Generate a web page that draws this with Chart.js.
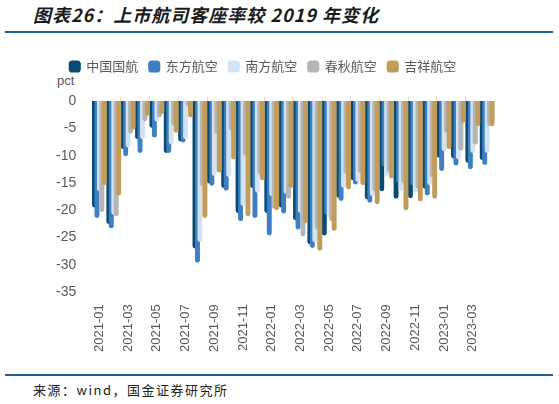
<!DOCTYPE html>
<html>
<head>
<meta charset="utf-8">
<script src="https://cdn.jsdelivr.net/npm/chart.js@4/dist/chart.umd.min.js"></script>
<style>
  body { margin: 0; background: #fff; width: 559px; height: 404px; position: relative; overflow: hidden;
         font-family: "Noto Sans CJK SC", "Noto Sans", sans-serif; }
  #title { position: absolute; left: 33px; top: 1px; font-size: 18px; font-weight: bold; font-style: italic;
           color: #1a1a1a; letter-spacing: 1px; white-space: nowrap; }
  .rule { position: absolute; left: 5px; width: 548px; height: 2px; background: #1f5f8e; }
  #unit { position: absolute; left: 57px; top: 73px; font-size: 13px; color: #595959; font-family: "Liberation Sans", Arial, sans-serif; }
  #source { position: absolute; left: 33px; top: 380px; font-size: 13px; color: #222; letter-spacing: 1.5px; white-space: nowrap; }
  #wrap { position: absolute; left: 0; top: 40px; width: 507px; height: 316px; }
</style>
</head>
<body>
<div id="title">图表26：上市航司客座率较 2019 年变化</div>
<div class="rule" style="top:31px"></div>
<div id="unit">pct</div>
<div id="wrap"><canvas id="myChart"></canvas></div>
<div class="rule" style="top:374px"></div>
<div id="source">来源：wind，国金证券研究所</div>

<script>
'use strict';

let months = ['2021-01', '2021-02', '2021-03', '2021-04', '2021-05', '2021-06', '2021-07', '2021-08',
    '2021-09', '2021-10', '2021-11', '2021-12', '2022-01', '2022-02', '2022-03', '2022-04',
    '2022-05', '2022-06', '2022-07', '2022-08', '2022-09', '2022-10', '2022-11', '2022-12',
    '2023-01', '2023-02', '2023-03', '2023-04'];

let airChina = [-19.5, -22.5, -8.8, -7.0, -4.9, -9.5, -7.4, -27.0, -15.1, -15.9, -20.5, -15.9, -20.5, -19.5,
    -21.8, -26.2, -24.6, -17.7, -14.5, -18.0, -16.5, -17.9, -17.8, -16.0, -10.4, -10.5, -11.3, -10.8];
let chinaEastern = [-21.4, -23.3, -10.1, -9.5, -6.7, -9.5, -7.6, -29.6, -15.5, -16.4, -22.0, -21.4, -24.6, -20.6,
    -23.5, -26.9, -20.8, -18.3, -15.3, -18.6, -12.0, -15.0, -15.5, -17.3, -12.8, -11.8, -12.5, -11.7];
let chinaSouthern = [-16.5, -20.8, -8.5, -7.0, -3.8, -7.9, -7.0, -25.8, -13.7, -13.9, -19.2, -16.8, -17.4, -17.0,
    -20.5, -25.9, -21.3, -15.9, -14.8, -17.4, -13.8, -16.5, -16.8, -15.4, -9.2, -10.7, -9.5, -9.5];
let springAir = [-20.3, -21.1, -6.0, -3.7, -3.0, -4.5, -1.0, -15.6, -6.0, -5.4, -10.0, -13.4, -19.7, -17.9,
    -24.8, -23.5, -22.0, -13.4, -13.2, -16.5, -13.0, -15.0, -16.0, -14.0, -5.8, -9.1, -8.0, -4.6];
let juneyao = [-15.4, -17.3, -5.2, -2.7, -2.4, -5.8, -3.0, -21.4, -13.1, -10.7, -21.1, -14.5, -20.0, -15.9,
    -22.3, -27.4, -23.8, -16.2, -15.4, -18.9, -14.2, -20.0, -18.4, -17.9, -8.8, -4.0, -4.6, -4.6];

let seriesNames = ['中国国航', '东方航空', '南方航空', '春秋航空', '吉祥航空'];
let seriesColors = ['#0a4a70', '#3f7fc0', '#d2e3f3', '#b5b5b5', '#c19c5a'];
let seriesValues = [airChina, chinaEastern, chinaSouthern, springAir, juneyao];

let datasets = [];
for (let i = 0; i < seriesNames.length; i++) {
    datasets.push({
        label: seriesNames[i],
        data: seriesValues[i],
        backgroundColor: seriesColors[i],
        borderRadius: 3,
        borderSkipped: 'start',
        categoryPercentage: 0.86,
        barPercentage: 2.0
    });
}

// later series on top, like the overlapped bars in the source
const drawInOrder = {
    id: 'drawInOrder',
    beforeDatasetsDraw(chart) {
        const area = chart.chartArea;
        const ctx = chart.ctx;
        ctx.save();
        ctx.beginPath();
        ctx.rect(area.left - 2, area.top, area.right - area.left + 4, area.bottom - area.top);
        ctx.clip();
        for (let i = 0; i < chart.data.datasets.length; i++) {
            chart.getDatasetMeta(i).controller.draw();
        }
        ctx.restore();
        return false;
    }
};

// some room between legend and plot (for the "pct" label), legend a bit to the left
const legendSpace = {
    id: 'legendSpace',
    beforeInit(chart) {
        if (!chart.legend) return;
        const fit = chart.legend.fit;
        chart.legend.fit = function () {
            fit.bind(chart.legend)();
            this.height += 14;
        };
    },
    afterLayout(chart) {
        if (!chart.legend) return;
        chart.legend.left -= 6;
        chart.legend.right -= 6;
    }
};

const config = {
    type: 'bar',
    data: { labels: months, datasets: datasets },
    plugins: [drawInOrder, legendSpace],
    options: {
        responsive: true,
        maintainAspectRatio: false,
        animation: false,
        layout: { padding: { top: 9, left: 40, right: 9, bottom: 0 } },
        plugins: {
            legend: {
                position: 'top',
                labels: {
                    usePointStyle: true,
                    pointStyle: 'rectRounded',
                    boxWidth: 10,
                    boxHeight: 10,
                    padding: 11,
                    color: '#595959',
                    font: { size: 13, family: '"Noto Sans CJK SC", sans-serif' }
                }
            },
            tooltip: { enabled: false }
        },
        scales: {
            x: {
                position: 'bottom',
                grid: { display: false },
                border: { display: false },
                ticks: {
                    autoSkip: false,
                    maxRotation: 90,
                    minRotation: 90,
                    padding: 4,
                    color: '#595959',
                    font: { size: 13, family: '"Liberation Sans", Arial, sans-serif' },
                    callback: function (value, index) {
                        return index % 2 === 0 ? months[index] : '';
                    }
                }
            },
            x2: {
                type: 'category',
                position: 'top',
                labels: months,
                grid: {
                    offset: true,
                    drawOnChartArea: false,
                    tickLength: 4,
                    color: function (c) { return c.index % 2 === 0 ? '#d9d9d9' : 'rgba(0,0,0,0)'; }
                },
                border: { display: true, color: '#d9d9d9', width: 1 },
                ticks: { display: false }
            },
            y: {
                min: -35,
                max: 0,
                grid: { display: false, drawTicks: false },
                border: { display: false },
                ticks: {
                    stepSize: 5,
                    padding: 16,
                    color: '#595959',
                    font: { size: 14, family: '"Liberation Sans", Arial, sans-serif' }
                }
            }
        }
    }
};

var myChart = new Chart(document.getElementById('myChart'), config);
</script>
</body>
</html>
